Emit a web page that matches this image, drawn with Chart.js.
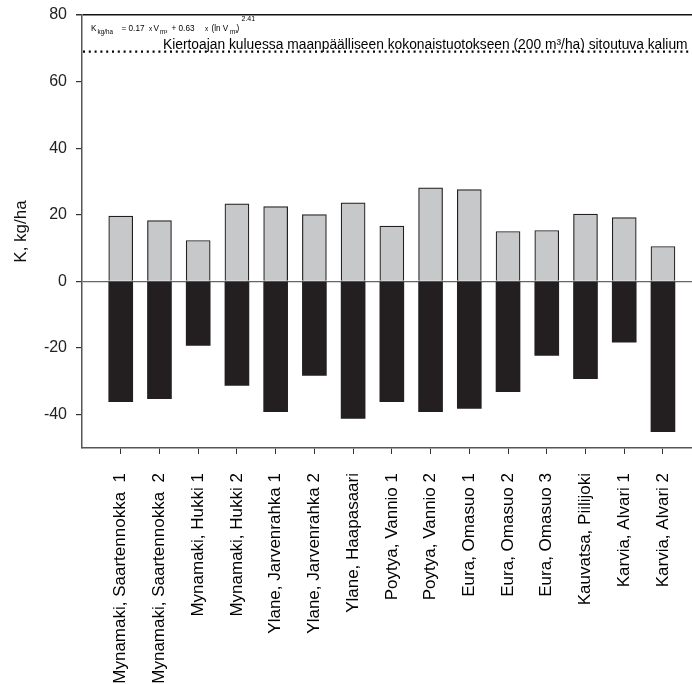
<!DOCTYPE html>
<html><head><meta charset="utf-8">
<script src="https://cdn.jsdelivr.net/npm/chart.js@4"></script>
<style>html,body{margin:0;padding:0;background:#fff;overflow:hidden}#wrap{width:692px;height:684px;position:relative}</style>
</head><body><div id="wrap"><canvas id="c" width="692" height="684"></canvas></div>
<script>
const categories = [
  "Mynamaki, Saartennokka  1", "Mynamaki, Saartennokka  2", "Mynamaki, Hukki 1", "Mynamaki, Hukki 2",
  "Ylane, Jarvenrahka 1", "Ylane, Jarvenrahka 2", "Ylane, Haapasaari", "Poytya, Vannio 1",
  "Poytya, Vannio 2", "Eura, Omasuo 1", "Eura, Omasuo 2", "Eura, Omasuo 3",
  "Kauvatsa, Piilijoki", "Karvia, Alvari 1", "Karvia, Alvari 2"
];
const positiveK = [19.6, 18.3, 12.3, 23.3, 22.5, 20.1, 23.6, 16.6, 28.1, 27.6, 15.0, 15.3, 20.2, 19.2, 10.5];
const negativeK = [-36.1, -35.2, -19.2, -31.2, -39.1, -28.2, -41.1, -36.1, -39.1, -38.1, -33.1, -22.2, -29.2, -18.2, -45.1];
const yTickValues = [-40, -20, 0, 20, 40, 60, 80];
const referenceLineK = [69];
const referenceText = "Kiertoajan kuluessa maanpäälliseen kokonaistuotokseen (200 m³/ha) sitoutuva kalium";
const formulaParts = [
  ["K", 0], ["kg/ha", 1], ["= 0.17", 0], ["x", 2], ["V", 0], ["m³", 1],
  ["+ 0.63", 0], ["x", 2], ["(ln V", 0], ["m³", 1], [")", 0], ["2.41", 3]
];

const FONT = "Arial, 'Liberation Sans', sans-serif";

const annotationPlugin = {
  id: 'annotations',
  afterDatasetsDraw(chart) {
    const ctx = chart.ctx;
    const area = chart.chartArea;
    const y = chart.scales.y.getPixelForValue(referenceLineK[0]);
    ctx.save();
    ctx.strokeStyle = '#000';
    ctx.lineWidth = 2.2;
    ctx.setLineDash([2, 3.8]);
    ctx.beginPath();
    ctx.moveTo(area.left + 1, y);
    ctx.lineTo(area.right, y);
    ctx.stroke();
    ctx.setLineDash([]);
    ctx.fillStyle = '#000';
    ctx.textBaseline = 'alphabetic';
    ctx.textAlign = 'left';
    ctx.font = "13.8px " + FONT;
    ctx.fillText(referenceText, 163, y - 3);
    // formula
    const xs = [91, 97.5, 121.5, 149, 153.5, 160, 171.5, 205, 211.5, 230, 236.5, 241.5];
    const styles = [
      {size: 8.2, dy: 0}, {size: 6.3, dy: 3}, {size: 6.3, dy: 0}, {size: 7, dy: -10}
    ];
    const base = area.top + 16;
    formulaParts.forEach((p, i) => {
      const st = styles[p[1]];
      ctx.font = st.size + "px " + FONT;
      ctx.fillText(p[0], xs[i], base + st.dy);
    });
    ctx.restore();
  }
};

new Chart(document.getElementById('c'), {
  type: 'bar',
  data: {
    datasets: [
      {
        label: 'Kalium +',
        data: positiveK.map((v, i) => ({x: i, y: v})),
        backgroundColor: '#c7c8ca',
        borderColor: '#231f20',
        borderWidth: 1.2,
        barThickness: 24
      },
      {
        label: 'Kalium −',
        data: negativeK.map((v, i) => ({x: i, y: v})),
        backgroundColor: '#231f20',
        borderColor: '#231f20',
        borderWidth: 0,
        barThickness: 24
      }
    ]
  },
  options: {
    responsive: false,
    animation: false,
    layout: {padding: {top: 15, right: 0, bottom: 0, left: 0}},
    plugins: {legend: {display: false}, tooltip: {enabled: false}},
    scales: {
      x: {
        type: 'linear',
        min: -1,
        max: 14.75,
        offset: false,
        stacked: true,
        afterBuildTicks: (scale) => { scale.ticks = categories.map((_, i) => ({value: i})); },
        afterFit: (scale) => { scale.height = 236; scale.paddingLeft = 0; scale.paddingRight = 0; },
        ticks: {
          autoSkip: false,
          maxRotation: 90,
          minRotation: 90,
          padding: 19,
          color: '#000',
          font: {size: 17, family: FONT},
          callback: (v) => categories[v]
        },
        grid: {offset: false, drawOnChartArea: false, drawTicks: true, tickLength: 6, tickColor: '#333'},
        border: {display: true, color: '#555', width: 1.5}
      },
      y: {
        min: -50,
        max: 80,
        stacked: true,
        afterBuildTicks: (scale) => { scale.ticks = yTickValues.map(v => ({value: v})); },
        afterFit: (scale) => { scale.width = 82; scale.paddingTop = 0; scale.paddingBottom = 0; },
        ticks: {
          padding: 9,
          color: '#222',
          font: {size: 16, family: FONT},
          callback: (v) => String(v)
        },
        grid: {
          tickLength: 6,
          tickColor: '#333',
          color: (c) => (c.tick && c.tick.value === 0) ? '#666' : (c.tick && c.tick.value === 80) ? '#111' : 'rgba(0,0,0,0)',
          lineWidth: (c) => (c.tick && c.tick.value === 80) ? 1.5 : 1.2
        },
        border: {display: true, color: '#555', width: 1.5},
        title: {
          display: true,
          text: 'K, kg/ha',
          color: '#111',
          font: {size: 17, family: FONT},
          padding: {top: 11, bottom: 0}
        }
      }
    }
  },
  plugins: [annotationPlugin]
});
</script>
</body></html>
